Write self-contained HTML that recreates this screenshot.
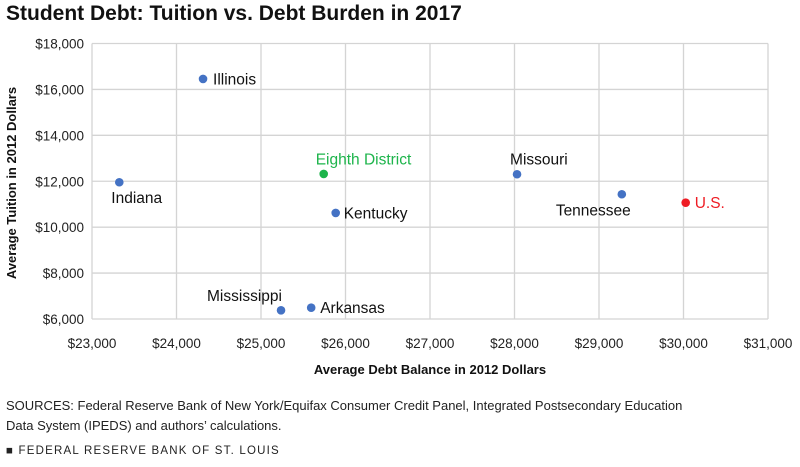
<!DOCTYPE html>
<html><head><meta charset="utf-8"><style>
body{margin:0;width:800px;height:467px;background:#fff;font-family:"Liberation Sans",sans-serif;overflow:hidden;position:relative}
.title{position:absolute;left:6px;top:2px;font-size:21px;font-weight:bold;color:#111}
.src{position:absolute;left:6px;top:396px;font-size:13px;line-height:20px;color:#222}
.foot{position:absolute;left:6px;top:445px;font-size:11.5px;letter-spacing:1.2px;color:#222}
</style></head><body>
<div class="title">Student Debt: Tuition vs. Debt Burden in 2017</div>
<svg id="chart" width="800" height="390" style="position:absolute;left:0;top:0"></svg>
<div class="src">SOURCES: Federal Reserve Bank of New York/Equifax Consumer Credit Panel, Integrated Postsecondary Education<br>Data System (IPEDS) and authors’ calculations.</div>
<div class="foot">■ FEDERAL RESERVE BANK OF ST. LOUIS</div>
<script>
const names=["Illinois","Indiana","Eighth District","Kentucky","Mississippi","Arkansas","Missouri","Tennessee","U.S."];
const debt=[24314,23323,25742,25884,25237,25594,28030,29270,30026];
const tuition=[16457,11956,12318,10620,6379,6492,12305,11434,11068];
const xTicks=[23000,24000,25000,26000,27000,28000,29000,30000,31000];
const yTicks=[6000,8000,10000,12000,14000,16000,18000];
const colors={"Eighth District":"#1db44b","U.S.":"#ee1c24"};
const labelPos={"Illinois":[10,0,"start"],"Indiana":[-8,15,"start"],"Eighth District":[-8,-15,"start"],"Kentucky":[8,0,"start"],"Mississippi":[-74,-15,"start"],"Arkansas":[9,0,"start"],"Missouri":[-7,-15,"start"],"Tennessee":[-66,16,"start"],"U.S.":[9,0,"start"]};
const L=92,R=768,T=43.5,B=319;
const xs=v=>L+(v-23000)/8000*(R-L);
const ys=v=>B-(v-6000)/12000*(B-T);
const svg=document.getElementById('chart');
const NS="http://www.w3.org/2000/svg";
function mk(t,a){const e=document.createElementNS(NS,t);for(const k in a)e.setAttribute(k,a[k]);svg.appendChild(e);return e;}
yTicks.forEach(v=>{
 const g=mk('line',{x1:L,x2:R,y1:ys(v),y2:ys(v),stroke:'#d4d4d4','stroke-width':1.3});
 
 
 const t=mk('text',{x:L-8,y:ys(v)+5,'text-anchor':'end','font-size':13.5,fill:'#222'});
 t.textContent='$'+v.toLocaleString('en-US');
 
 
});
xTicks.forEach(v=>{
 const g=mk('line',{x1:xs(v),x2:xs(v),y1:T,y2:B,stroke:'#d4d4d4','stroke-width':1.3});
 
 
 const t=mk('text',{x:xs(v),y:B+29,'text-anchor':'middle','font-size':13.5,fill:'#222'});
 t.textContent='$'+v.toLocaleString('en-US');
 
 
});
names.forEach((n,i)=>{
 const c=colors[n]||'#4472c4';
 const x=xs(debt[i]),y=ys(tuition[i]);
 const p=mk('circle',{cx:x,cy:y,r:4.3,fill:c});
 
 
 const lp=labelPos[n];
 const t=mk('text',{x:x+lp[0],y:y+lp[1]+5.5,'text-anchor':lp[2],'font-size':15.5,fill:colors[n]||'#111'});
 t.textContent=n;
 
 
});
const xt=mk('text',{x:430,y:374,'text-anchor':'middle','font-size':13,'font-weight':'bold',fill:'#111'});
xt.textContent='Average Debt Balance in 2012 Dollars';


const yt=mk('text',{x:0,y:0,'text-anchor':'middle','font-size':13,'font-weight':'bold',fill:'#111',transform:'translate(16,183) rotate(-90)'});
yt.textContent='Average Tuition in 2012 Dollars';


</script>
</body></html>
